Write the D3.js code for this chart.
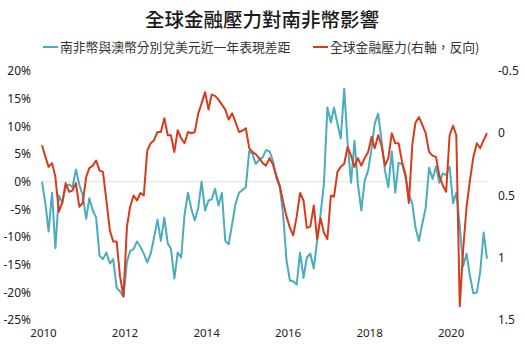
<!DOCTYPE html>
<html>
<head>
<meta charset="utf-8">
<script src="https://cdn.jsdelivr.net/npm/d3@7"></script>
<style>
  body { margin: 0; background: #fff; }
  svg { display: block; }
  text { font-family: "Noto Sans", "Noto Sans CJK TC", sans-serif; fill: #222; }
  .cjk { font-family: "Noto Sans CJK TC", "Noto Sans", sans-serif; }
</style>
</head>
<body>
<div id="chart"></div>
<script>
// monthly, Jan 2010 .. Dec 2020
var startYear = 2010;
var randDiff = [
  0, -4, -9, -2, -12, -2.5, -3.8, -1, -0.5, -1, 2.2, -0.5,
  -2.5, -6.7, -3, -5.2, -6.5, -13.4, -14, -12.8, -14.8, -14, -19.2, -19.8,
  -20.8, -14.5, -12.5, -12.2, -10.8, -11.8, -13, -14.6, -13, -10.1, -6.9, -10.7,
  -6.5, -11.2, -12.1, -17.5, -12.8, -13.7, -6, -2, -5, -7, -4.7, 0,
  -5.2, -3.4, -3.2, -1.3, -4.3, -2, -10.7, -11.3, -7.6, -4, -2, -1.5,
  -1, 5.6, 5, 3.2, 4, 4.4, 5.7, 5.5, 3.8, 0.7, -1, -5.8,
  -14.3, -17.9, -18, -18.6, -12.8, -17.4, -13.7, -13, -15.7, -10.7, -5.8, -0.4,
  13.4, 10.7, 13.4, 10.5, 7.8, 16.8, 6.9, -0.2, 7.4, -0.4, -5.2, 0.2,
  2, 6, 10.5, 12.3, 7.5, 2, -1, 5.5, -2, 3.4, 3.2, 1,
  -2.2, -4, -8.3, -10.7, -7.6, -4.7, 2.5, 0.5, 2.8, -0.2, 1.5, 1.2,
  2.7, -3.9, -2, -8, -15.3, -13, -17, -20.2, -20, -16.3, -9.2, -13.9
];
var stressIndex = [
  0.096, 0.19, 0.27, 0.24, 0.35, 0.63, 0.56, 0.4, 0.47, 0.46, 0.4, 0.59,
  0.56, 0.35, 0.28, 0.26, 0.22, 0.3, 0.31, 0.54, 0.78, 0.87, 0.87, 1.15,
  1.31, 0.75, 0.59, 0.5, 0.54, 0.48, 0.5, 0.14, 0.08, 0.056, -0.01, -0.01,
  -0.12, 0.016, 0.016, 0.15, -0.024, 0.04, 0.08, -0.01, 0, -0.01, -0.16, -0.24,
  -0.33, -0.19, -0.31, -0.3, -0.27, -0.23, -0.19, -0.11, -0.16, -0.09, -0.01, -0.02,
  -0.04, 0.12, 0.15, 0.17, 0.2, 0.24, 0.26, 0.2, 0.25, 0.34, 0.42, 0.55,
  0.67, 0.76, 0.82, 0.67, 0.48, 0.54, 0.76, 0.75, 0.58, 0.85, 0.68, 0.8,
  0.85, 0.5, 0.51, 0.31, 0.27, 0.245, 0.11, 0.18, 0.27, 0.2, 0.26, 0.2,
  0.15, 0.03, 0.12, 0.016, 0.1, 0.26, 0.2, 0, 0.08, 0.08, 0.23, 0.33,
  0.56, 0.09, -0.085, -0.13, -0.07, 0, 0.15, 0.18, 0.19, 0.34, 0.42, 0.47,
  0.016, -0.06, 0.016, 1.39, 0.94, 0.59, 0.38, 0.19, 0.08, 0.12, 0.056, 0
];
var leftTicks = [20, 15, 10, 5, 0, -5, -10, -15, -20, -25];
var rightTicks = [-0.5, 0, 0.5, 1, 1.5];
var yearTicks = [2010, 2012, 2014, 2016, 2018, 2020];

var titleText = "全球金融壓力對南非幣影響";
var seriesNames = ["南非幣與澳幣分別兌美元近一年表現差距", "全球金融壓力(右軸，反向)"];
var colors = ["#4aacbd", "#d83b1c"];

var width = 525, height = 348;
var months = randDiff.map(function (d, i) { return new Date(startYear, i, 1) });

var svg = d3.select("#chart").append("svg")
  .attr("width", width)
  .attr("height", height);

var x = d3.scaleTime()
  .domain([months[0], months[months.length - 1]])
  .range([42, 487]);
var yLeft = d3.scaleLinear().domain([-25, 20]).range([320, 71]);
var yRight = d3.scaleLinear().domain([-0.5, 1.5]).range([71, 320]);

// title
svg.append("text")
  .attr("class", "cjk")
  .attr("x", 262)
  .attr("y", 27)
  .attr("text-anchor", "middle")
  .style("font-size", "19.5px")
  .style("font-weight", "500")
  .style("fill", "#1a1a1a")
  .text(titleText);

// legend
var legendPos = [{ x: 43, tx: 60 }, { x: 313, tx: 330 }];
seriesNames.forEach(function (name, i) {
  svg.append("line")
    .attr("x1", legendPos[i].x).attr("x2", legendPos[i].x + 15)
    .attr("y1", 47).attr("y2", 47)
    .attr("stroke", colors[i])
    .attr("stroke-width", 2);
  svg.append("text")
    .attr("class", "cjk")
    .attr("x", legendPos[i].tx)
    .attr("y", 51.5)
    .style("font-size", "12.8px")
    .style("fill", "#333")
    .text(name);
});

// zero line
svg.append("line")
  .attr("x1", 42).attr("x2", 487)
  .attr("y1", yLeft(0)).attr("y2", yLeft(0))
  .attr("stroke", "#e0e0e0")
  .attr("stroke-width", 1);

// left axis labels
svg.selectAll(".left-label")
  .data(leftTicks)
  .enter()
  .append("text")
  .attr("class", "left-label")
  .attr("x", 31)
  .attr("y", function (d) { return yLeft(d) })
  .attr("dy", "0.35em")
  .attr("text-anchor", "end")
  .style("font-size", "12px")
  .text(function (d) { return d + "%" });

// right axis labels
svg.selectAll(".right-label")
  .data(rightTicks)
  .enter()
  .append("text")
  .attr("class", "right-label")
  .attr("x", 498)
  .attr("y", function (d) { return yRight(d) })
  .attr("dy", "0.35em")
  .style("font-size", "12px")
  .text(function (d) { return d });

// x labels
svg.selectAll(".x-label")
  .data(yearTicks)
  .enter()
  .append("text")
  .attr("class", "x-label")
  .attr("x", function (d) { return x(new Date(d, 0, 1)) + 1.5 })
  .attr("y", 337)
  .attr("text-anchor", "middle")
  .style("font-size", "11.5px")
  .text(function (d) { return d });

// lines
var tealLine = d3.line()
  .x(function (d, i) { return x(months[i]) })
  .y(function (d) { return yLeft(d) });
var redLine = d3.line()
  .x(function (d, i) { return x(months[i]) })
  .y(function (d) { return yRight(d) });

svg.append("path")
  .datum(randDiff)
  .attr("d", tealLine)
  .attr("fill", "none")
  .attr("stroke", colors[0])
  .attr("stroke-width", 2)
  .attr("stroke-linejoin", "round");

svg.append("path")
  .datum(stressIndex)
  .attr("d", redLine)
  .attr("fill", "none")
  .attr("stroke", colors[1])
  .attr("stroke-width", 2)
  .attr("stroke-linejoin", "round");
</script>
</body>
</html>
